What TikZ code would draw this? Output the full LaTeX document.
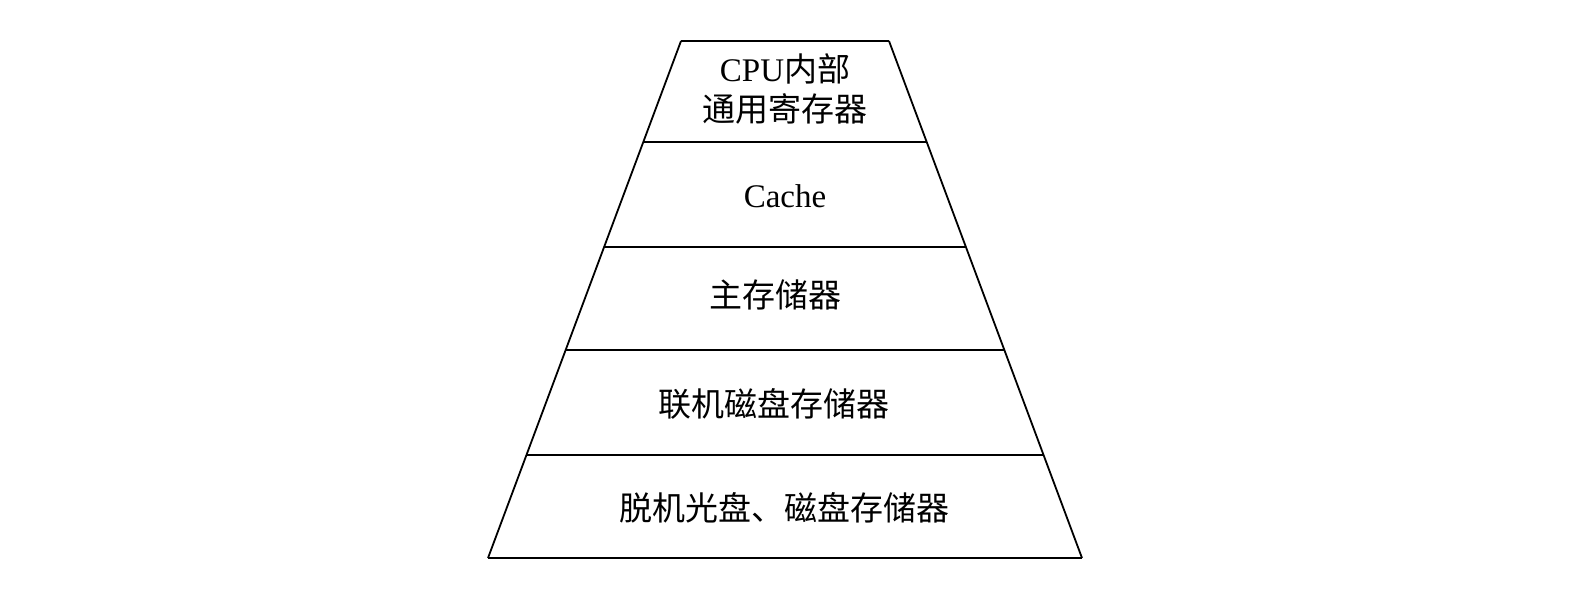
\documentclass[tikz,border=0pt]{standalone}
\usepackage{fontspec}
\usetikzlibrary{calc}
\setmainfont{Liberation Serif}
\newfontfamily\cjk{Noto Sans CJK SC}
\begin{document}
\begin{tikzpicture}[x=1pt,y=-1pt,
  thickline/.style={line width=2.6pt},
  thinline/.style={line width=1.8pt},
  lab/.style={font=\fontsize{33}{40}\selectfont, align=center, inner sep=0pt}]
\useasboundingbox (0,0) rectangle (1573,606);
% corners
\coordinate (tl) at (681,41);
\coordinate (tr) at (889,41);
\coordinate (bl) at (488,558);
\coordinate (br) at (1082,558);
% sides
\draw[thinline] (tl) -- (bl);
\draw[thinline] (tr) -- (br);
\draw[thickline] (tl) -- (tr);
\draw[thickline] (bl) -- (br);
% level separators
\foreach \y/\s in {142/thinline,247/thickline,350/thickline,455/thinline}{
  \pgfmathsetmacro{\f}{(\y-41)/517}
  \draw[\s] ($(tl)!\f!(bl)$) -- ($(tr)!\f!(br)$);
}
\node[lab] (l1) at (785,89) {CPU{\cjk 内部}\\{\cjk 通用寄存器}};
\node[lab] (l2) at (785,196) {Cache};
\node[lab] (l3) at (775,295) {\cjk 主存储器};
\node[lab] (l4) at (774,404) {\cjk 联机磁盘存储器};
\node[lab] (l5) at (784,508) {\cjk 脱机光盘、磁盘存储器};
\end{tikzpicture}
\end{document}
